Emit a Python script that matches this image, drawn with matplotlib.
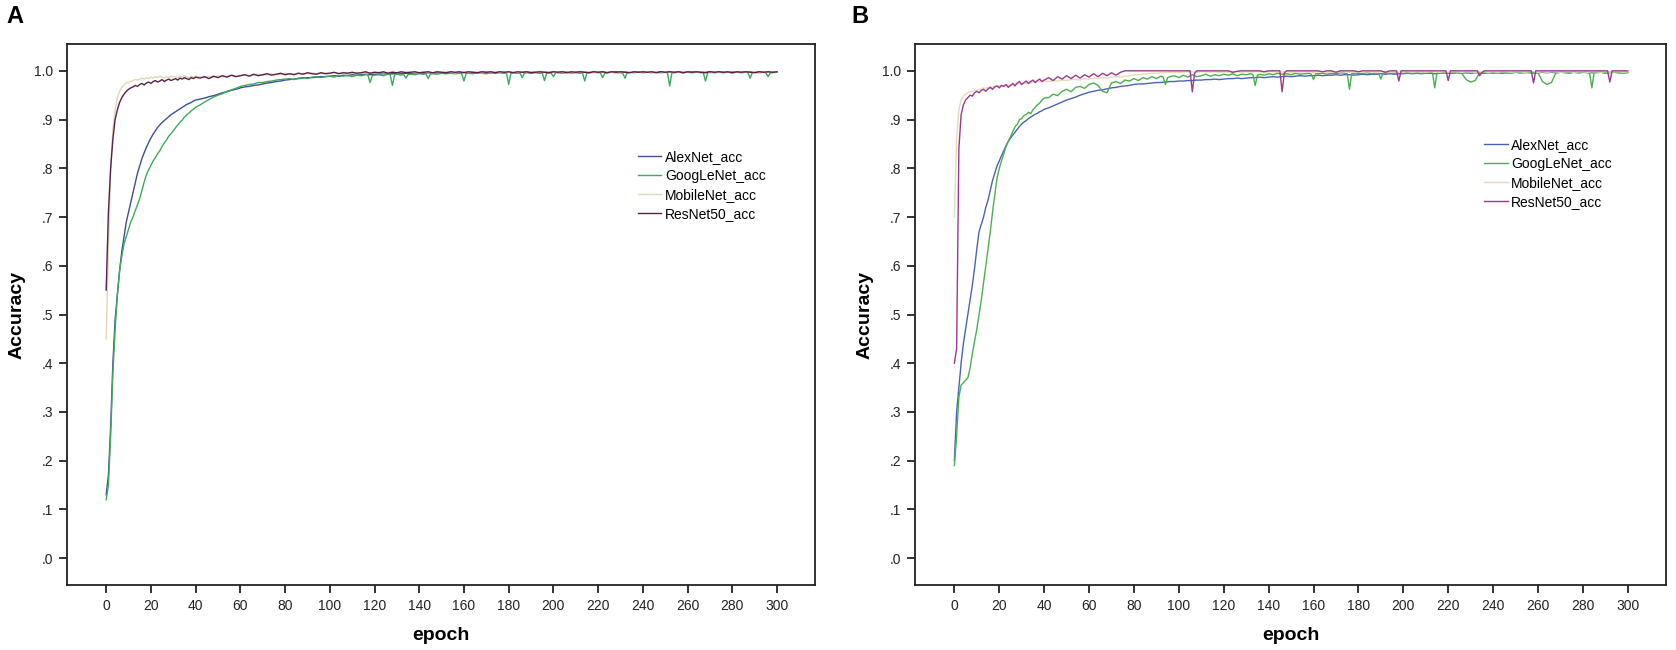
import matplotlib
matplotlib.use("Agg")
import matplotlib.pyplot as plt

plt.rcParams['font.family'] = ['Liberation Sans', 'DejaVu Sans']

# x categories: every epoch up to 40, then every 2nd epoch
EPOCHS = list(range(0, 41)) + list(range(42, 301, 2))
# extra (odd) epochs read around the sharp single-epoch dips
A_GOOGLENET_EXTRA = [117, 119, 127, 129, 133, 135, 143, 145, 159, 161, 179, 181, 185, 187, 195, 197,
                     199, 201, 213, 215, 221, 223, 231, 233, 251, 253, 267, 269, 287, 289, 295, 297]
B_GOOGLENET_EXTRA = [93, 95, 133, 135, 159, 161, 175, 177, 189, 191, 213, 215, 283, 285]
B_RESNET_EXTRA = [105, 107, 145, 147, 197, 199, 219, 221, 233, 235, 257, 259, 291, 293]

Y_TICKS = [0.0, 0.1, 0.2, 0.3, 0.4, 0.5, 0.6, 0.7, 0.8, 0.9, 1.0]
Y_TICK_LABELS = ['.0', '.1', '.2', '.3', '.4', '.5', '.6', '.7', '.8', '.9', '1.0']
X_TICKS = list(range(0, 301, 20))
SERIES_NAMES = ['AlexNet_acc', 'GoogLeNet_acc', 'MobileNet_acc', 'ResNet50_acc']

# ---------------- Panel A ----------------
A_alexnet = [
    .13, .17, .27, .40, .49, .54, .59, .63, .66, .69, .71, .73, .75, .77, .79, .805, .82, .832, .843, .853,
    .862, .870, .877, .884, .889, .894, .898, .902, .906, .910, .913, .916, .919, .922, .925, .928, .931, .933, .935, .938, .940,
    .942, .944, .947, .949, .952, .955, .957, .960, .962, .965,
    .967, .968, .970, .971, .973, .975, .976, .978, .979, .981,
    .982, .983, .984, .985, .986, .986, .987, .988, .988, .989,
    .990, .989, .991, .990, .992, .991, .992, .993, .992, .993,
    .993, .994, .993, .994, .995, .994, .995, .994, .995, .996,
    .995, .996, .995, .996, .996, .995, .997, .996, .996, .997,
    .996, .997, .996, .997, .997, .996, .997, .997, .996, .997,
    .997, .996, .997, .998, .997, .997, .996, .997, .998, .997,
    .997, .998, .997, .996, .997, .998, .997, .997, .998, .997,
    .998, .997, .997, .998, .997, .998, .997, .998, .998, .997,
    .998, .997, .998, .998, .997, .998, .997, .998, .998, .997,
    .998, .998, .997, .998, .998, .997, .998, .998, .997, .998,
    .998, .997, .998, .998, .997, .998, .998, .997, .998, .998,
]
A_googlenet = [
    .12, .15, .25, .38, .47, .54, .59, .62, .645, .66, .675, .69, .70, .713, .725, .738, .755, .772, .787, .797,
    .806, .815, .822, .830, .836, .845, .852, .858, .866, .871, .877, .883, .889, .894, .899, .905, .910, .913, .918, .921, .925,
    .930, .936, .941, .946, .950, .953, .958, .961, .964, .968,
    .970, .972, .973, .976, .976, .978, .979, .981, .982, .983,
    .984, .982, .985, .986, .984, .987, .988, .986, .988, .989,
    .987, .990, .989, .991, .988, .991, .990, .992, .992, .976, .990, .991,
    .992, .990, .993, .992, .970, .992, .993, .991, .993, .985, .992, .993, .992, .994,
    .993, .994, .984, .993, .994, .993, .995, .994, .995, .994, .995, .994, .979, .995,
    .995, .994, .996, .995, .994, .996, .995, .996, .995, .996, .972, .995,
    .996, .995, .996, .986, .995, .996, .995, .996, .995, .996, .980, .995, .996, .995, .988, .996,
    .996, .995, .997, .996, .996, .995, .996, .979, .996, .996, .997, .996,
    .996, .986, .995, .996, .997, .996, .996, .995, .985, .996, .997, .996, .997, .996,
    .997, .996, .997, .996, .997, .996, .969, .996, .996, .997, .996, .997,
    .996, .997, .996, .997, .979, .996, .997, .996, .997, .996, .997, .996,
    .997, .996, .997, .996, .985, .997, .997, .996, .997, .996, .988, .996, .996, .997,
]
A_mobilenet = [
    .45, .63, .80, .88, .92, .945, .958, .966, .971, .975, .977, .978, .980, .982, .981, .983, .985, .983, .986, .984,
    .987, .985, .988, .986, .989, .987, .985, .988, .986, .989, .987, .988, .986, .989, .987, .990, .988, .986, .989, .987, .989,
    .988, .986, .989, .987, .990, .988, .989, .991, .989, .990,
    .992, .990, .991, .993, .991, .992, .994, .992, .993, .995,
    .993, .994, .995, .993, .995, .996, .994, .995, .996, .995,
    .996, .995, .997, .996, .995, .997, .996, .997, .996, .997,
    .997, .996, .997, .998, .996, .997, .998, .997, .996, .997,
    .998, .997, .996, .998, .997, .998, .997, .996, .998, .997,
    .997, .998, .997, .996, .998, .997, .998, .997, .998, .996,
    .998, .997, .998, .998, .997, .996, .998, .997, .998, .997,
    .997, .998, .996, .998, .997, .998, .997, .998, .996, .998,
    .997, .998, .997, .996, .998, .997, .998, .998, .997, .998,
    .998, .997, .998, .996, .998, .997, .998, .997, .998, .998,
    .997, .998, .997, .998, .996, .998, .997, .998, .998, .997,
    .998, .997, .998, .997, .998, .996, .998, .997, .998, .998,
]
A_resnet = [
    .55, .71, .80, .86, .90, .92, .935, .945, .952, .958, .962, .965, .967, .970, .968, .972, .974, .971, .975, .977,
    .974, .978, .980, .977, .979, .982, .978, .981, .983, .980, .982, .984, .981, .985, .983, .986, .984, .982, .986, .984, .987,
    .985, .988, .984, .989, .986, .990, .987, .991, .988, .990,
    .992, .989, .993, .990, .992, .994, .991, .993, .995, .992,
    .994, .992, .995, .993, .996, .994, .993, .996, .994, .995,
    .997, .994, .996, .995, .997, .995, .996, .998, .995, .997,
    .996, .998, .995, .997, .996, .998, .996, .997, .998, .996,
    .997, .998, .996, .998, .997, .996, .998, .997, .998, .996,
    .998, .997, .996, .998, .997, .998, .996, .998, .997, .998,
    .996, .998, .997, .998, .996, .997, .998, .997, .996, .998,
    .997, .998, .996, .998, .997, .998, .997, .996, .998, .997,
    .998, .996, .998, .997, .998, .997, .996, .998, .997, .998,
    .997, .998, .996, .998, .997, .998, .997, .998, .996, .998,
    .997, .998, .997, .996, .998, .997, .998, .997, .998, .996,
    .998, .997, .998, .997, .996, .998, .997, .998, .997, .998,
]

# ---------------- Panel B ----------------
B_alexnet = [
    .20, .30, .35, .40, .44, .47, .50, .53, .56, .595, .635, .67, .685, .70, .72, .735, .755, .775, .79, .805,
    .815, .826, .836, .846, .855, .862, .868, .874, .880, .886, .891, .895, .898, .902, .905, .908, .911, .913, .916, .918, .921,
    .924, .928, .932, .936, .940, .943, .946, .950, .953, .956,
    .958, .960, .961, .963, .965, .966, .968, .969, .970, .972,
    .973, .973, .974, .975, .976, .976, .977, .978, .978, .979,
    .979, .980, .980, .981, .981, .982, .982, .983, .982, .983,
    .984, .984, .985, .984, .985, .986, .986, .987, .986, .987,
    .988, .987, .988, .989, .988, .989, .990, .989, .990, .990,
    .991, .990, .991, .991, .992, .991, .992, .992, .991, .992,
    .993, .992, .993, .993, .994, .993, .994, .993, .994, .994,
    .995, .994, .995, .994, .995, .995, .994, .995, .996, .995,
    .995, .996, .995, .996, .995, .996, .996, .995, .996, .996,
    .996, .995, .996, .996, .997, .996, .996, .997, .996, .996,
    .997, .996, .997, .996, .997, .997, .996, .997, .996, .997,
    .997, .996, .997, .997, .996, .997, .997, .996, .997, .997,
]
B_googlenet = [
    .19, .25, .33, .355, .36, .365, .37, .39, .42, .445, .47, .50, .53, .565, .60, .635, .67, .71, .745, .78,
    .80, .815, .83, .845, .855, .865, .875, .885, .89, .90, .902, .908, .91, .915, .912, .92, .925, .93, .934, .94, .944,
    .945, .952, .949, .958, .962, .957, .966, .968, .964, .972,
    .975, .970, .958, .955, .975, .978, .974, .981, .979, .984,
    .980, .986, .983, .988, .984, .989, .987, .972, .986, .988, .990, .986,
    .991, .987, .992, .988, .990, .993, .989, .992, .990, .993,
    .991, .994, .990, .993, .992, .994, .992, .970, .991, .993, .991, .994,
    .992, .995, .993, .994, .992, .995, .993, .994, .995, .993, .982, .994,
    .994, .995, .993, .995, .994, .996, .995, .994, .962, .994, .995, .994,
    .995, .996, .994, .996, .995, .983, .995, .995, .996, .995, .996, .995,
    .996, .995, .996, .995, .996, .997, .996, .965, .996, .996, .995, .996,
    .996, .997, .995, .982, .977, .980, .996, .997, .996, .995,
    .996, .997, .996, .995, .997, .996, .997, .996, .995, .996,
    .978, .972, .976, .996, .997, .996, .995, .997, .996, .997,
    .996, .995, .965, .996, .996, .997, .995, .996, .997, .996, .995, .996,
]
B_mobilenet = [
    .70, .86, .92, .94, .948, .952, .955, .957, .958, .960, .960, .962, .963, .965, .964, .966, .967, .966, .968, .969,
    .968, .970, .969, .971, .970, .972, .971, .973, .972, .974, .973, .975, .974, .976, .975, .977, .976, .977, .978, .977, .979,
    .978, .980, .979, .981, .980, .982, .983, .981, .984, .983,
    .985, .984, .986, .985, .987, .988, .987, .989, .990, .991,
    .992, .993, .994, .995, .995, .996, .996, .997, .997, .997,
    .997, .998, .998, .997, .998, .998, .997, .998, .997, .998,
    .997, .998, .998, .997, .998, .997, .998, .998, .997, .998,
    .998, .997, .998, .998, .997, .998, .997, .998, .998, .997,
    .998, .998, .997, .998, .997, .998, .998, .997, .998, .998,
    .997, .998, .998, .997, .998, .998, .997, .998, .997, .998,
    .998, .997, .998, .998, .997, .998, .998, .997, .998, .997,
    .998, .998, .997, .998, .998, .997, .998, .998, .997, .998,
    .997, .998, .998, .997, .998, .998, .997, .998, .998, .997,
    .998, .997, .998, .998, .997, .998, .998, .997, .998, .998,
    .997, .998, .998, .997, .998, .997, .998, .998, .997, .998,
]
B_resnet = [
    .40, .43, .84, .91, .93, .94, .945, .95, .948, .955, .958, .955, .96, .962, .958, .963, .966, .962, .967, .969,
    .965, .97, .968, .972, .966, .97, .974, .969, .975, .978, .972, .976, .979, .974, .978, .981, .976, .98, .983, .978, .981,
    .986, .980, .988, .983, .990, .984, .991, .985, .992, .987,
    .994, .988, .995, .990, .996, .991, .997, 1.0, 1.0, 1.0,
    1.0, 1.0, 1.0, 1.0, 1.0, 1.0, 1.0, 1.0, 1.0, 1.0,
    1.0, 1.0, 1.0, .957, .995, 1.0, 1.0, 1.0, 1.0, 1.0, 1.0, 1.0,
    1.0, .997, .999, 1.0, 1.0, 1.0, 1.0, 1.0, .998, 1.0,
    1.0, 1.0, 1.0, .957, .996, 1.0, 1.0, 1.0, 1.0, 1.0, 1.0, 1.0,
    1.0, .998, 1.0, 1.0, .997, 1.0, 1.0, 1.0, 1.0, .998,
    1.0, 1.0, 1.0, 1.0, 1.0, .997, 1.0, 1.0, 1.0, .979, 1.0, 1.0,
    1.0, 1.0, 1.0, 1.0, 1.0, 1.0, 1.0, 1.0, 1.0, 1.0, .980, 1.0,
    1.0, 1.0, 1.0, 1.0, 1.0, 1.0, 1.0, .990, .996, 1.0, 1.0, 1.0,
    1.0, 1.0, 1.0, 1.0, 1.0, 1.0, 1.0, 1.0, 1.0, .975, 1.0, 1.0,
    1.0, 1.0, 1.0, 1.0, 1.0, 1.0, 1.0, 1.0, 1.0, 1.0,
    1.0, 1.0, 1.0, 1.0, 1.0, 1.0, .977, 1.0, 1.0, 1.0, 1.0, 1.0,
]

A_COLORS = ['#3f4e90', '#3daa5c', '#e2d6b4', '#55214c']
B_COLORS = ['#4a63b3', '#49b04f', '#e6dbb8', '#9a3a8e']

fig = plt.figure(figsize=(16.76, 6.5), dpi=100)
axA = fig.add_axes([0.040, 0.100, 0.4463, 0.8323])
axB = fig.add_axes([0.546, 0.100, 0.448, 0.8323])


def draw(ax, series, xs, colors, leg_anchor):
    for x, vals, col, name in zip(xs, series, colors, SERIES_NAMES):
        ax.plot(x, vals, color=col, lw=1.0, label=name)
    ax.set_xlim(-17.5, 317)
    ax.set_ylim(-0.055, 1.055)
    ax.set_xticks(X_TICKS)
    ax.set_xticklabels([str(t) for t in X_TICKS])
    ax.set_yticks(Y_TICKS)
    ax.set_yticklabels(Y_TICK_LABELS)
    ax.tick_params(axis='both', direction='out', length=6, width=1.3, labelsize=10,
                   color='#222222', labelcolor='#222222', pad=4)
    for s in ax.spines.values():
        s.set_linewidth(1.3)
        s.set_color('#222222')
    ax.set_xlabel('epoch', fontsize=14, fontweight='bold', labelpad=10)
    ax.set_ylabel('Accuracy', fontsize=14, fontweight='bold', labelpad=6)
    ax.legend(loc='upper left', bbox_to_anchor=leg_anchor, frameon=False,
              fontsize=10, handlelength=1.7, handletextpad=0.25,
              labelspacing=0.35, borderpad=0, borderaxespad=0)


xa = [EPOCHS, sorted(EPOCHS + A_GOOGLENET_EXTRA), EPOCHS, EPOCHS]
xb = [EPOCHS, sorted(EPOCHS + B_GOOGLENET_EXTRA), EPOCHS, sorted(EPOCHS + B_RESNET_EXTRA)]
draw(axA, [A_alexnet, A_googlenet, A_mobilenet, A_resnet], xa, A_COLORS, (0.763, 0.804))
draw(axB, [B_alexnet, B_googlenet, B_mobilenet, B_resnet], xb, B_COLORS, (0.758, 0.826))

fig.text(0.004, 0.975, 'A', fontsize=17, fontweight='bold', va='center', ha='left')
fig.text(0.508, 0.975, 'B', fontsize=17, fontweight='bold', va='center', ha='left')

fig.savefig('out.png', dpi=100)
